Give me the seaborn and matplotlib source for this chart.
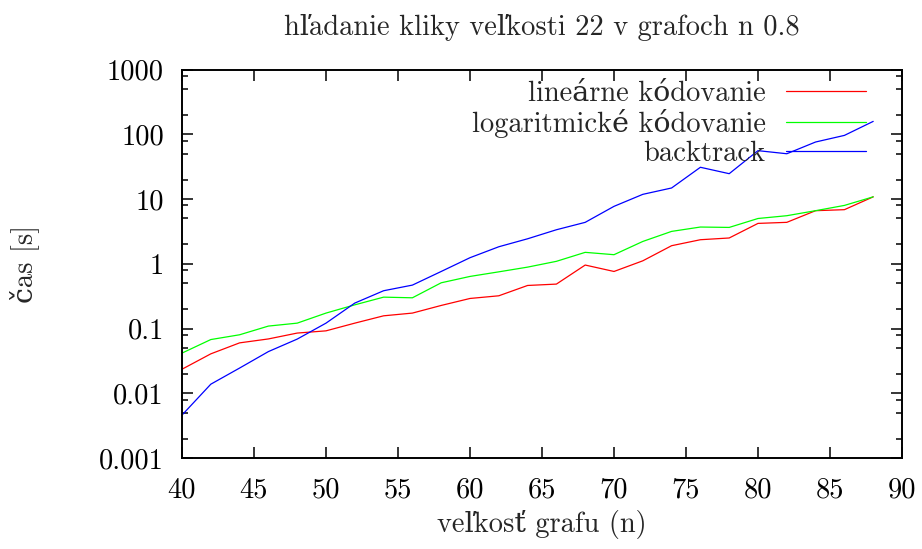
import numpy as np
import pandas as pd
import matplotlib
matplotlib.use("Agg")
import matplotlib.pyplot as plt
import matplotlib.ticker as mticker
import seaborn as sns

n_values = list(range(40, 89, 2))
linear = [0.0235, 0.0406, 0.060, 0.069, 0.085, 0.092, 0.121, 0.157, 0.173, 0.227,
          0.291, 0.320, 0.462, 0.485, 0.955, 0.76, 1.11, 1.90, 2.35, 2.50,
          4.20, 4.36, 6.60, 6.84, 10.8]
logarithmic = [0.0417, 0.0675, 0.080, 0.109, 0.121, 0.173, 0.232, 0.305, 0.298, 0.508,
               0.637, 0.75, 0.887, 1.09, 1.50, 1.38, 2.21, 3.16, 3.69, 3.64,
               5.00, 5.52, 6.60, 7.96, 10.8]
backtrack = [0.0046, 0.0138, 0.0245, 0.044, 0.0686, 0.121, 0.247, 0.383, 0.468, 0.76,
             1.24, 1.83, 2.43, 3.35, 4.36, 7.7, 11.8, 14.8, 30.9, 24.6,
             55.8, 50.0, 75.9, 96.0, 158.0]
series_names = ["lineárne kódovanie", "logaritmické kódovanie", "backtrack"]
colors = ["#ff0000", "#00ff00", "#0000ff"]
y_ticks = [0.001, 0.01, 0.1, 1, 10, 100, 1000]
y_tick_labels = ["0.001", "0.01", "0.1", "1", "10", "100", "1000"]
x_ticks = [40, 45, 50, 55, 60, 65, 70, 75, 80, 85, 90]

df = pd.DataFrame({
    "n": n_values * 3,
    "t": linear + logarithmic + backtrack,
    "series": [series_names[0]] * len(n_values) + [series_names[1]] * len(n_values)
              + [series_names[2]] * len(n_values),
})

sns.set_theme(style="ticks")
plt.rcParams["font.family"] = ["cmr10", "DejaVu Serif"]
plt.rcParams["axes.formatter.use_mathtext"] = True
FS = 20.5

fig = plt.figure(figsize=(9.22, 5.49), dpi=100)
ax = fig.add_axes([182 / 922, 1 - 458 / 549, 720 / 922, 388.5 / 549])

sns.lineplot(data=df, x="n", y="t", hue="series", palette=colors,
             hue_order=series_names, linewidth=0.9, ax=ax, legend=True)

ax.set_yscale("log")
ax.set_xlim(40, 90)
ax.set_ylim(0.001, 1000)
ax.set_xticks(x_ticks)
ax.set_xticklabels([str(v) for v in x_ticks])
ax.set_yticks(y_ticks)
ax.set_yticklabels(y_tick_labels)
ax.yaxis.set_minor_locator(mticker.LogLocator(base=10, subs=[2, 5, 8]))
ax.yaxis.set_minor_formatter(mticker.NullFormatter())
ax.xaxis.set_minor_locator(mticker.NullLocator())

ax.tick_params(which="both", direction="in", top=True, right=True, labelsize=FS,
               colors="black")
ax.tick_params(which="major", length=8, width=1.1)
ax.tick_params(axis="x", which="major", pad=14)
ax.tick_params(axis="y", which="major", pad=13)
ax.tick_params(which="minor", length=4, width=1.1)
for s in ax.spines.values():
    s.set_linewidth(1.4)
    s.set_color("black")

ax.set_xlabel("veľkosť grafu (n)", fontsize=FS)
ax.set_ylabel("čas [s]", fontsize=FS)
ax.xaxis.set_label_coords(0.5, -0.135)
ax.yaxis.set_label_coords(-0.198, 0.5)
ax.set_title("hľadanie kliky veľkosti 22 v grafoch n 0.8", fontsize=FS, y=1.068)

handles, labels = ax.get_legend_handles_labels()
leg = ax.legend(handles, labels, loc="upper right", frameon=False, fontsize=FS,
                markerfirst=False, handlelength=2.8, handletextpad=0.72,
                labelspacing=0.08, borderaxespad=0.0, borderpad=0.0,
                bbox_to_anchor=(0.95, 0.972))
for col in leg._legend_handle_box.get_children():
    col.align = "right"

fig.savefig("out.png", dpi=100)
